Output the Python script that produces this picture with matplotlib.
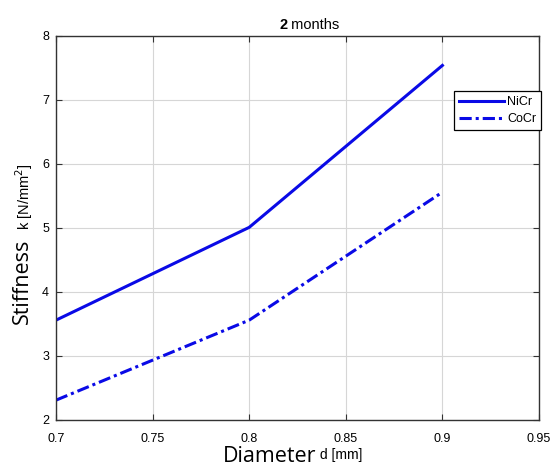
import matplotlib
matplotlib.use("Agg")
import matplotlib.pyplot as plt

diameter = [0.7, 0.8, 0.9]
nicr = [3.56, 5.01, 7.54]
cocr = [2.31, 3.56, 5.56]
xticks = [0.7, 0.75, 0.8, 0.85, 0.9, 0.95]
xticklabels = ["0.7", "0.75", "0.8", "0.85", "0.9", "0.95"]
yticks = [2, 3, 4, 5, 6, 7, 8]

fig = plt.figure(figsize=(5.57, 4.68), dpi=100)
ax = fig.add_axes([56/557, 1-420/468, 483/557, 384/468])

blue = "#0a0ae6"
ax.plot(diameter, nicr, color=blue, lw=2.2, ls="-", label="NiCr")
ax.plot(diameter, cocr, color=blue, lw=2.2, ls=(0, (4, 1.3, 1, 1.3)), label="CoCr")

ax.set_xlim(0.7, 0.95)
ax.set_ylim(2, 8)
ax.set_xticks(xticks)
ax.set_xticklabels(xticklabels, family="Liberation Sans", fontsize=9)
ax.set_yticks(yticks)
ax.set_yticklabels([str(v) for v in yticks], family="Liberation Sans", fontsize=9)
ax.tick_params(direction="in", top=True, right=True, length=4, color="#333333")
ax.tick_params(axis="x", pad=9)
ax.tick_params(axis="y", pad=5)
ax.grid(True, color="#d6d6d6", lw=0.8)
for s in ax.spines.values():
    s.set_color("#333333")
    s.set_linewidth(1.0)

leg = ax.legend(loc="upper left", bbox_to_anchor=(0.824, 0.856),
                frameon=True, fancybox=False, borderpad=0.4, handlelength=3.6,
                handletextpad=0.25, labelspacing=0.4, borderaxespad=0,
                prop={"family": "Liberation Sans", "size": 9})
leg.get_frame().set_edgecolor("black")
leg.get_frame().set_linewidth(0.9)
leg.get_frame().set_alpha(1)

# title
t1 = fig.text(279/557, 1-25/468, "2", fontsize=10.5, fontweight="bold",
              family="Liberation Sans", ha="left", va="center")
ax.annotate(" months", xy=(1, 0), xycoords=t1, fontsize=10.5,
            family="Liberation Sans", ha="left", va="bottom")

# x label
xl = fig.text(316/557, 1-456/468, "Diameter", fontsize=15.5, family="Open Sans",
              ha="right", va="center")
ax.annotate(" d [mm]", xy=(1, 0.2), xycoords=xl, fontsize=10,
            family="Liberation Sans", ha="left", va="bottom")

# y label
yl = fig.text(22/557, 1-281/468, "Stiffness", fontsize=15.5, family="Open Sans",
              rotation=90, ha="center", va="center")
ax.annotate(r"  k [N/mm$^2$]", xy=(0.62, 1), xycoords=yl, fontsize=10.5,
            family="Liberation Sans", rotation=90, ha="center", va="bottom")

fig.savefig("out.png", dpi=100)
